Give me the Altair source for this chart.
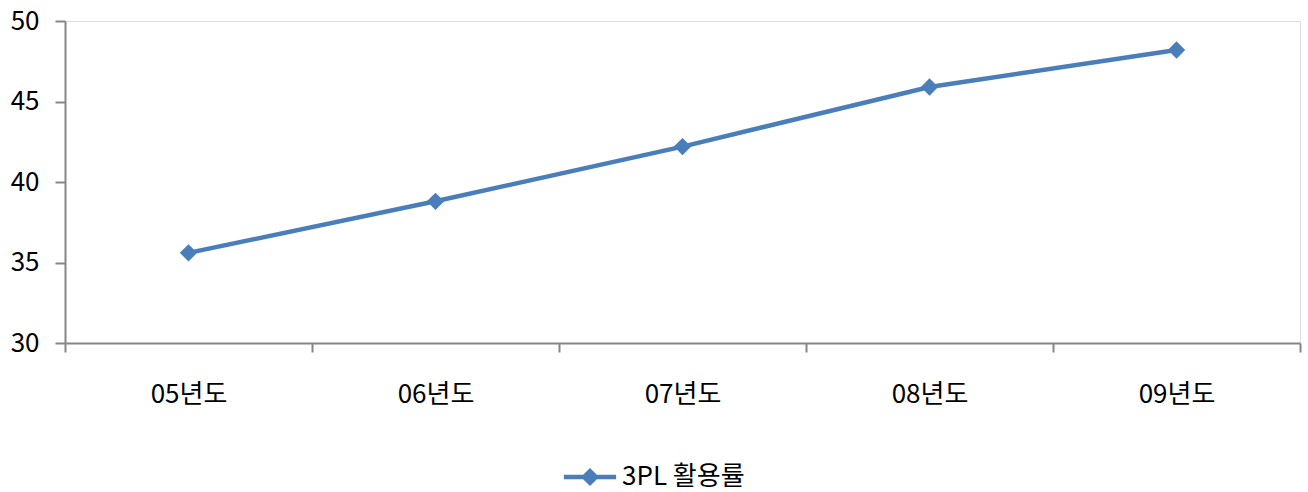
import altair as alt
import pandas as pd

years = ["05년도", "06년도", "07년도", "08년도", "09년도"]
values = [35.6, 38.8, 42.2, 45.9, 48.2]
series = ["3PL 활용률"] * 5

df = pd.DataFrame({"year": years, "value": values, "series": series})

FONT = "Noto Sans CJK KR"
BLUE = "#4a7ebb"
AXIS = "#868686"
FS = 26

legend_path = ("M-2.9,-0.24L-0.76,-0.24L0,-1L0.76,-0.24L2.9,-0.24L2.9,0.24L0.76,0.24"
               "L0,1L-0.76,0.24L-2.9,0.24Z")

x = alt.X("year:N", sort=years, title=None,
          scale=alt.Scale(paddingInner=0, paddingOuter=0),
          axis=alt.Axis(labelAngle=0, tickBand="extent", tickSize=9, labelPadding=29,
                        labelFontSize=FS, labelColor="#000000", labelFont=FONT,
                        domainColor=AXIS, tickColor=AXIS, domainWidth=2, tickWidth=2,
                        grid=False))
y = alt.Y("value:Q", title=None,
          scale=alt.Scale(domain=[30, 50], nice=False, zero=False),
          axis=alt.Axis(values=[30, 35, 40, 45, 50], tickSize=10, labelPadding=16,
                        labelFontSize=FS, labelColor="#000000", labelFont=FONT,
                        domainColor=AXIS, tickColor=AXIS, domainWidth=2, tickWidth=2,
                        grid=False))
color = alt.Color("series:N", scale=alt.Scale(range=[BLUE]),
                  legend=alt.Legend(title=None, orient="none", legendX=512, legendY=443,
                                    symbolType=legend_path, symbolSize=324,
                                    symbolFillColor=BLUE, symbolStrokeWidth=0,
                                    labelFontSize=FS, labelFont=FONT, labelColor="#000000",
                                    labelOffset=19, padding=0))

line = alt.Chart(df).mark_line(strokeWidth=4.5, color=BLUE).encode(x=x, y=y, color=color)
pts = alt.Chart(df).mark_point(shape="diamond", filled=True, size=300, opacity=1,
                               color=BLUE).encode(x=x, y=y)

chart = (line + pts).properties(
    width=1235, height=322,
    autosize=alt.AutoSizeParams(type="none"),
    padding={"left": 65, "top": 21, "right": 8, "bottom": 149},
).configure_view(stroke=None).configure(background="white")

chart.save("out.html", embed_options={"renderer": "svg", "actions": False})
